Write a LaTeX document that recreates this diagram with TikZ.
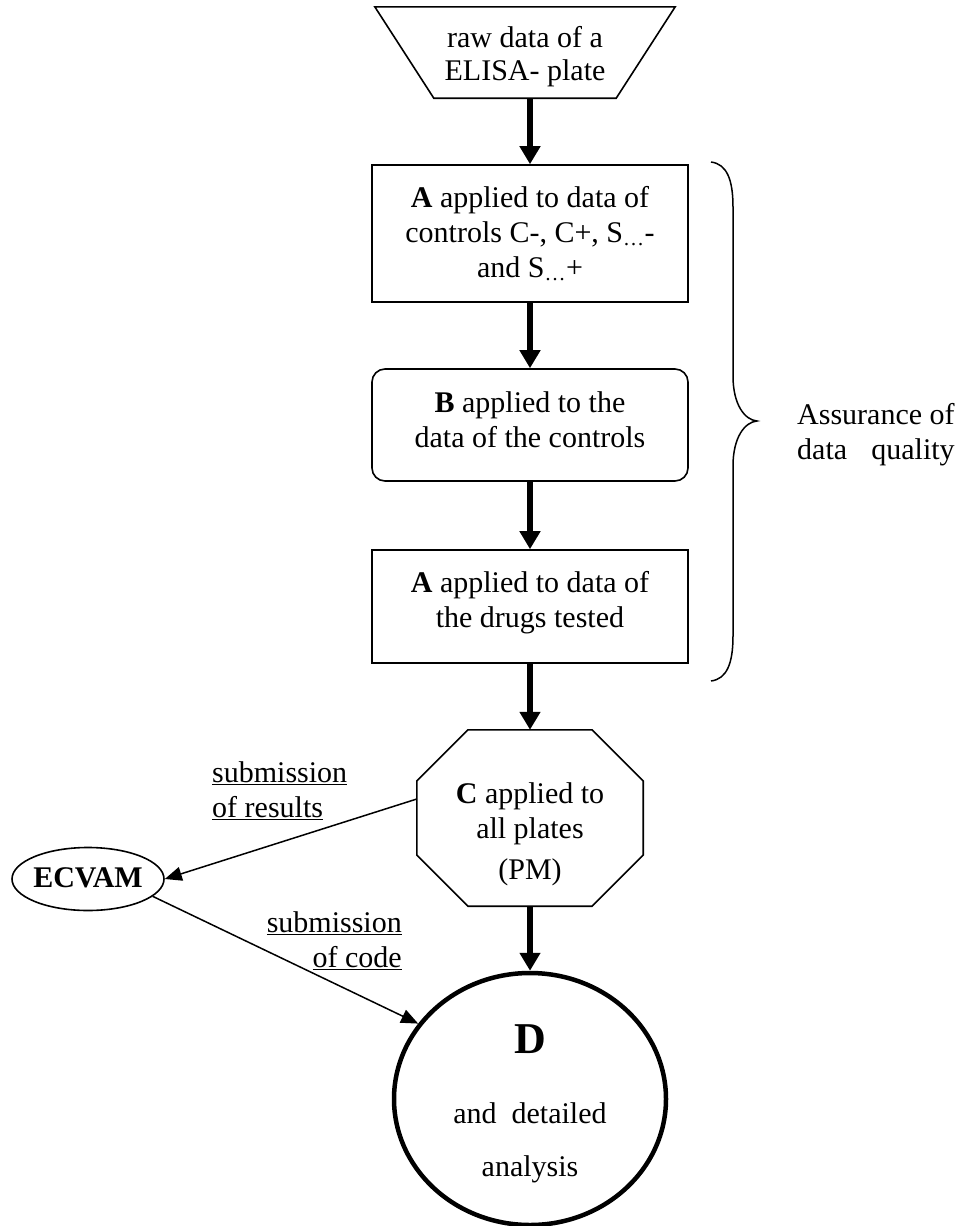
\documentclass[tikz,border=0pt]{standalone}
\usepackage{fontspec}
\setmainfont{Liberation Serif}
\usetikzlibrary{arrows.meta,shapes.geometric}
\newlength\aqw
\begin{document}
\begin{tikzpicture}[x=1pt,y=-1pt,
  every node/.style={font=\fontsize{30}{35}\selectfont, inner sep=0pt},
  shapeline/.style={draw, line width=1.6pt},
  procbox/.style={shapeline, minimum width=316pt, align=center, text depth=0pt},
  mainarrow/.style={line width=6pt, -{Triangle[length=18pt,width=20pt]}},
  sidearrow/.style={line width=1.5pt, -{Triangle[length=17pt,width=14pt]}},
]
\useasboundingbox (0,0) rectangle (967,1226);

% raw data (trapezoid)
\node[align=center, minimum width=182pt, minimum height=91pt, text height=55pt, text depth=0pt] (raw) at (525,52.5) {raw data of a\\[-2pt]ELISA- plate};
\draw[shapeline] ([xshift=-59pt]raw.north west) -- ([xshift=59pt]raw.north east) -- (raw.south east) -- (raw.south west) -- cycle;

% process boxes
\node[procbox, minimum height=137pt, text height=87pt] (A1) at (530,233.5) {\textbf{A} applied to data of\\controls C-, C+, S\textsubscript{\ldots}-\\and S\textsubscript{\ldots}+};
\node[procbox, rounded corners=13pt, minimum height=112pt, text height=44pt] (B) at (530,425) {\textbf{B} applied to the\\data of the controls};
\node[procbox, minimum height=113pt, text height=41pt] (A3) at (530,606.5) {\textbf{A} applied to data of\\the drugs tested};

% octagon C
\node[minimum width=226pt, minimum height=176pt, align=center, text height=122pt, text depth=0pt] (C) at (530,818) {\textbf{C} applied to\\all plates\\[6pt](PM)};
\draw[shapeline] ([xshift=-62pt]C.north) -- ([xshift=62pt]C.north) -- ([yshift=37pt]C.east) -- ([yshift=-37pt]C.east) -- ([xshift=62pt]C.south) -- ([xshift=-62pt]C.south) -- ([yshift=-37pt]C.west) -- ([yshift=37pt]C.west) -- cycle;

% ECVAM
\node[ellipse, shapeline, minimum width=152pt, minimum height=63pt, text height=20pt, text depth=4pt] (ecvam) at (88,879) {\makebox[80pt]{\textbf{ECVAM}}};

% D
\node[ellipse, draw, line width=4.5pt, minimum width=272pt, minimum height=252pt, align=center, text height=154pt, text depth=0pt] (D) at (530,1099) {{\fontsize{44}{44}\selectfont\textbf{D}}\\[35pt]and\ \ detailed\\[18pt]analysis};

% main flow
\draw[mainarrow] (raw.south -| A1.north) -- (A1.north);
\draw[mainarrow] (A1.south) -- (B.north);
\draw[mainarrow] (B.south) -- (A3.north);
\draw[mainarrow] (A3.south) -- (C.north);
\draw[mainarrow] (C.south) -- (D.north);

% side flow
\draw[sidearrow] ([yshift=19pt]C.west) -- (ecvam.east);
\draw[sidearrow] (ecvam.-15) -- (D.146);

\node[anchor=base west] (lbl1) at (212,782) {\begin{tabular}[t]{@{}l@{}}\underline{submission}\\\underline{of results}\end{tabular}};
\node[anchor=base east] (lbl2) at (402,932) {\begin{tabular}[t]{@{}r@{}}\underline{submission}\\\underline{of code}\end{tabular}};

% brace
\draw[line width=1.5pt] (711,162) .. controls (727,164) and (733,180) .. (733,207) -- (733,376) .. controls (733,405) and (745,420) .. (757,421) .. controls (745,422) and (733,437) .. (733,466) -- (733,636) .. controls (733,663) and (727,679) .. (711,681);

\node[anchor=base west] (aq) at (797,424) {\settowidth{\aqw}{Assurance of}\begin{tabular}[t]{@{}l@{}}Assurance of\\\makebox[\aqw][s]{data quality}\end{tabular}};
\end{tikzpicture}
\end{document}
